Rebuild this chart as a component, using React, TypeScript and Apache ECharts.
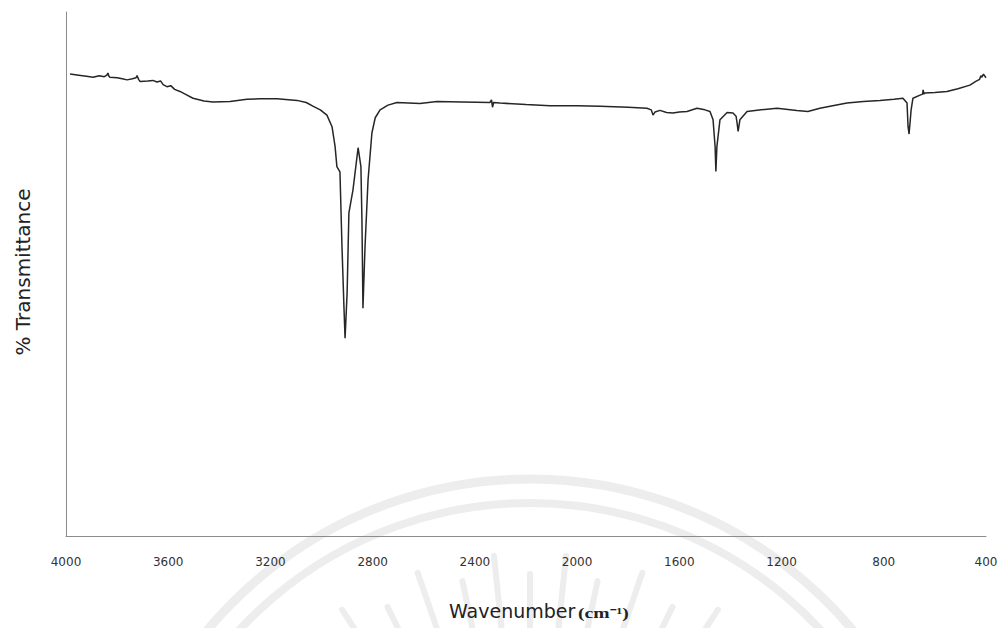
import React, { useEffect, useRef } from "react";
import * as echarts from "echarts";

const wavenumbers: number[] = [
  3984, 3950, 3920, 3894, 3870, 3850, 3840, 3836, 3832, 3828, 3800, 3780, 3761, 3740, 3726, 3722, 3716, 3710,
  3680, 3660, 3644, 3630, 3620, 3605, 3590, 3575, 3554, 3530, 3503, 3460, 3425, 3358, 3292, 3240, 3174, 3096,
  3060, 3034, 3005, 2979, 2959, 2947, 2940, 2928, 2920, 2912, 2908, 2900, 2893, 2877, 2857, 2846, 2842, 2838,
  2830, 2818, 2803, 2790, 2771, 2740, 2705, 2615, 2548, 2450, 2341, 2335, 2331, 2327, 2302, 2200, 2106, 2000,
  1910, 1800, 1727, 1710, 1703, 1695, 1676, 1650, 1625, 1600, 1570, 1531, 1500, 1480, 1468, 1460, 1457, 1453,
  1441, 1413, 1390, 1378, 1374, 1370, 1363, 1335, 1280, 1218, 1140, 1097, 1050, 1000, 944, 880, 815, 760, 725,
  709, 705, 701, 693, 686, 658, 648, 646, 643, 639, 600, 553, 510, 463, 440, 425, 420, 416, 410, 400,
];

const transmittance: number[] = [
  87.8, 87.6, 87.4, 87.2, 87.5, 87.3, 87.6, 88.0, 87.4, 87.2, 87.1, 86.9, 86.7, 86.9, 87.1, 87.5, 86.8, 86.4,
  86.5, 86.6, 86.3, 86.5, 85.8, 85.4, 85.6, 84.9, 84.5, 83.9, 83.2, 82.7, 82.5, 82.6, 83.0, 83.1, 83.1, 82.8,
  82.4, 81.7, 81.0, 80.0, 77.8, 74.0, 70.2, 69.2, 54.9, 43.0, 37.6, 46.2, 61.4, 65.8, 73.8, 70.2, 60.1, 43.3,
  54.9, 67.7, 76.6, 79.5, 81.0, 81.9, 82.4, 82.2, 82.6, 82.5, 82.4, 82.9, 81.5, 82.4, 82.3, 82.0, 81.8, 81.8,
  81.7, 81.5, 81.3, 81.0, 80.0, 80.6, 80.9, 80.5, 80.4, 80.6, 80.7, 81.3, 81.0, 80.7, 79.1, 74.0, 69.3, 74.0,
  79.1, 80.5, 80.4, 79.8, 78.5, 76.9, 79.1, 80.7, 81.0, 81.3, 80.9, 80.7, 81.3, 81.8, 82.3, 82.6, 82.8, 83.0, 83.2,
  82.3, 77.8, 76.4, 81.0, 83.2, 83.8, 84.0, 84.8, 84.0, 84.2, 84.3, 84.5, 85.0, 85.7, 86.4, 86.8, 87.5, 87.2, 87.8, 87.1,
];

const xTicks = { min: 400, max: 4000, interval: 400 };
const xTitle = "Wavenumber";
const xUnit = "(cm\u207B\u00B9)";
const yTitle = "% Transmittance";

// decorative watermark ray angles (degrees from vertical)
const rayAngles: number[] = [-48, -40, -33, -26, -19, -12, -6, 0, 6, 12, 19, 26, 33, 40, 48];

export default function App() {
  const ref = useRef<HTMLDivElement>(null);

  useEffect(() => {
    if (!ref.current) return;
    const chart = echarts.init(ref.current, undefined, { renderer: "svg" });
    const data = wavenumbers.map((w, i) => [w, transmittance[i]]);

    const cx = 530;
    const cy = 899;
    const wm = "#ededed";
    const rays = rayAngles.map((a, i) => {
      const rad = (a * Math.PI) / 180;
      const r1 = 265;
      const r2 = i % 2 === 0 ? 345 : 325;
      return {
        type: "line",
        silent: true,
        z: -10,
        shape: {
          x1: cx + Math.sin(rad) * r1,
          y1: cy - Math.cos(rad) * r1,
          x2: cx + Math.sin(rad) * r2,
          y2: cy - Math.cos(rad) * r2,
        },
        style: { stroke: wm, lineWidth: 6, lineCap: "round" },
      };
    });

    chart.setOption({
      animation: false,
      backgroundColor: "#ffffff",
      grid: { left: 66, right: 15, top: 12, bottom: 92, containLabel: false },
      xAxis: {
        type: "value",
        min: xTicks.min,
        max: xTicks.max,
        interval: xTicks.interval,
        inverse: true,
        axisLine: { show: true, lineStyle: { color: "#8c8c8c", width: 1 } },
        axisTick: { show: false },
        splitLine: { show: false },
        axisLabel: {
          show: true,
          color: "#333333",
          fontSize: 12,
          fontFamily: "DejaVu Sans",
          margin: 20,
          showMinLabel: true,
          showMaxLabel: true,
          formatter: (v: number) => String(v),
        },
      },
      yAxis: {
        type: "value",
        min: 0,
        max: 99.6,
        axisLine: { show: true, lineStyle: { color: "#8c8c8c", width: 1 } },
        axisTick: { show: false },
        axisLabel: { show: false },
        splitLine: { show: false },
      },
      series: [
        {
          type: "line",
          data,
          showSymbol: false,
          symbol: "none",
          lineStyle: { color: "#262626", width: 1.5 },
          z: 5,
        },
      ],
      graphic: [
        {
          type: "arc",
          silent: true,
          z: -10,
          shape: { cx, cy, r: 420, startAngle: Math.PI * 1.05, endAngle: Math.PI * 1.95, clockwise: true },
          style: { stroke: wm, lineWidth: 9, fill: null },
        },
        {
          type: "arc",
          silent: true,
          z: -10,
          shape: { cx, cy, r: 396, startAngle: Math.PI * 1.05, endAngle: Math.PI * 1.95, clockwise: true },
          style: { stroke: wm, lineWidth: 8, fill: null },
        },
        ...rays,
        {
          type: "text",
          x: 23,
          y: 272,
          rotation: Math.PI / 2,
          style: {
            text: yTitle,
            font: '20px "DejaVu Sans"',
            fill: "#222222",
            align: "center",
            verticalAlign: "middle",
          },
        },
        {
          type: "text",
          x: 449,
          y: 611,
          style: {
            text: xTitle,
            font: '19px "DejaVu Sans"',
            fill: "#222222",
            align: "left",
            verticalAlign: "middle",
          },
        },
        {
          type: "text",
          x: 578,
          y: 613,
          scaleX: 1.4,
          style: {
            text: xUnit,
            font: 'bold 14px "Liberation Serif"',
            fill: "#222222",
            align: "left",
            verticalAlign: "middle",
          },
        },
      ],
    });
    return () => chart.dispose();
  }, []);

  return (
    <div
      ref={ref}
      style={{ position: "fixed", left: 0, top: 0, width: 1001, height: 628, background: "#fff" }}
    />
  );
}
